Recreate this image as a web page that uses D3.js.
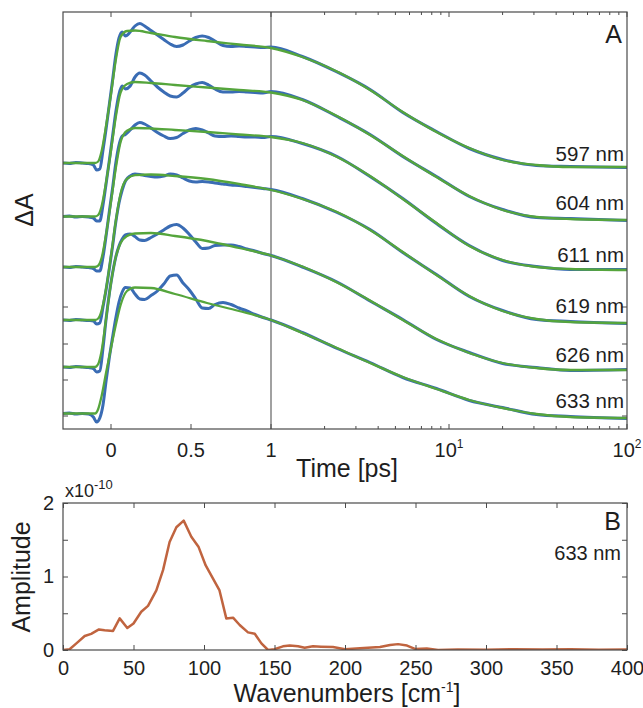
<!DOCTYPE html>
<html><head><meta charset="utf-8">
<script src="https://cdn.jsdelivr.net/npm/d3@7/dist/d3.min.js"></script>
<style>
body{margin:0;background:#fff;}
svg{display:block;font-family:"Liberation Sans",Arial,Helvetica,sans-serif;}
</style>
</head><body>
<svg id="c" width="643" height="708"></svg>
<script>
// ---------------- DATA ----------------
const traceLabels = ["597 nm","604 nm","611 nm","619 nm","626 nm","633 nm"];

// fit (green) time grid, ps
const tFit = [-0.3,-0.1,-0.08,-0.06,-0.03,0,0.03,0.06,0.1,0.15,0.25,0.4,0.6,0.8,1,
              1.5,2.35,3.6,5.5,8.5,13,20,31,48,100];
const fit597 = [2.66,2.66,2.675,2.77,3.04,3.35,3.69,3.92,3.98,3.985,3.96,3.92,3.88,3.845,3.81,
                3.72,3.575,3.39,3.17,2.97,2.81,2.69,2.64,2.62,2.62];
const fit604 = [2.125,2.125,2.14,2.22,2.475,2.785,3.12,3.365,3.45,3.47,3.46,3.44,3.415,3.39,3.365,
                3.29,3.13,2.94,2.73,2.52,2.33,2.19,2.12,2.10,2.09];
const fit611 = [1.62,1.62,1.634,1.703,1.954,2.273,2.607,2.871,2.982,3.01,3.005,2.99,2.97,2.945,2.92,
                2.86,2.72,2.53,2.30,2.06,1.83,1.69,1.62,1.60,1.59];
const fit619 = [1.09,1.09,1.105,1.177,1.41,1.73,2.08,2.356,2.501,2.538,2.545,2.53,2.50,2.45,2.39,
                2.30,2.17,1.99,1.77,1.54,1.33,1.18,1.10,1.07,1.06];
const fit626 = [0.62,0.62,0.65,0.77,1.11,1.46,1.72,1.86,1.93,1.955,1.96,1.93,1.88,1.81,1.735,
                1.625,1.465,1.285,1.09,0.90,0.76,0.66,0.61,0.59,0.59];
const fit633 = [0.155,0.155,0.20,0.32,0.57,0.81,1.04,1.24,1.38,1.415,1.41,1.35,1.26,1.18,1.09,
                0.96,0.81,0.66,0.52,0.40,0.29,0.21,0.15,0.12,0.11];

// measured data (blue) time grid, ps
const tData = [-0.3,-0.26,-0.22,-0.18,-0.14,-0.11,-0.09,-0.07,-0.05,-0.03,-0.01,0.01,0.03,0.05,0.07,0.09,
               0.12,0.15,0.18,0.21,0.25,0.29,0.33,0.37,0.41,0.45,0.49,0.53,0.57,0.61,0.65,0.7,0.75,0.8,
               0.85,0.9,0.95,1,1.5,2.35,3.6,5.5,8.5,13,20,31,48,100];
const data597 = [2.66,2.655,2.665,2.66,2.655,2.64,2.59,2.60,2.79,3.01,3.25,3.49,3.74,3.91,3.97,3.93,
                 3.97,4.03,4.055,4.03,3.985,3.94,3.895,3.85,3.825,3.84,3.88,3.915,3.93,3.915,3.88,3.835,3.825,3.83,
                 3.825,3.82,3.815,3.82,3.725,3.57,3.395,3.165,2.975,2.805,2.695,2.635,2.625,2.615];
const data604 = [2.125,2.13,2.12,2.125,2.12,2.11,2.08,2.08,2.24,2.46,2.69,2.93,3.17,3.35,3.43,3.40,
                 3.43,3.52,3.56,3.54,3.48,3.42,3.37,3.33,3.32,3.36,3.415,3.45,3.465,3.44,3.40,3.37,3.37,3.375,
                 3.37,3.365,3.36,3.375,3.295,3.125,2.945,2.725,2.525,2.325,2.195,2.115,2.105,2.085];
const data611 = [1.62,1.615,1.625,1.62,1.615,1.605,1.58,1.58,1.72,1.94,2.18,2.41,2.66,2.84,2.93,2.945,
                 2.99,3.04,3.065,3.05,3.01,2.965,2.93,2.905,2.915,2.955,2.99,3.005,2.99,2.96,2.93,2.925,2.93,2.925,
                 2.92,2.92,2.915,2.925,2.855,2.725,2.525,2.305,2.055,1.835,1.685,1.625,1.595,1.595];
const data619 = [1.09,1.085,1.095,1.09,1.085,1.08,1.05,1.06,1.22,1.40,1.61,1.83,2.07,2.26,2.39,2.48,
                 2.53,2.55,2.545,2.535,2.525,2.52,2.53,2.55,2.54,2.51,2.48,2.47,2.475,2.47,2.46,2.45,2.44,2.435,
                 2.425,2.415,2.405,2.395,2.305,2.165,1.995,1.765,1.545,1.325,1.185,1.095,1.075,1.055];
const data626 = [0.62,0.615,0.625,0.62,0.615,0.605,0.57,0.58,0.81,1.11,1.36,1.56,1.72,1.83,1.90,1.94,
                 1.95,1.925,1.89,1.885,1.915,1.95,1.99,2.03,2.045,2.01,1.945,1.87,1.805,1.81,1.835,1.84,1.84,1.825,
                 1.80,1.78,1.755,1.735,1.62,1.47,1.28,1.095,0.895,0.765,0.655,0.615,0.585,0.595];
const data633 = [0.155,0.16,0.15,0.155,0.15,0.12,0.07,0.11,0.24,0.49,0.72,0.92,1.11,1.27,1.37,1.415,
                 1.41,1.35,1.30,1.295,1.335,1.38,1.45,1.53,1.54,1.46,1.39,1.30,1.21,1.205,1.245,1.265,1.245,1.21,
                 1.18,1.145,1.115,1.09,0.965,0.805,0.665,0.515,0.405,0.285,0.215,0.145,0.125,0.105];

const fits = [fit597,fit604,fit611,fit619,fit626,fit633];
const datas = [data597,data604,data611,data619,data626,data633];
// right-end label anchor values (ΔA, arb.)
const labelVals = [2.685,2.19,1.67,1.16,0.675,0.21];

const xLinTicks = [0,0.5,1];
const xLogMajor = [10,100];
const xLogMinor = [2,3,4,5,6,7,8,9,20,30,40,50,60,70,80,90];
const yTicksA = [0.13,0.49,0.85,1.22];

// panel B: Fourier amplitude spectrum (633 nm), x1e-10
const wavenumbers = [0,4.7,9.5,15.4,20,25.5,29.5,35.5,40.2,45.6,50,55.5,60.3,66.2,71,75.6,80.4,85.6,91,96.2,
  101.2,106.4,111,115.8,120.6,125.3,131.2,136,140.7,145.4,150,156,160.8,166.7,171.4,177.3,183,191.5,200,
  210.6,224.8,232,237.6,244,249.6,258,266,280,300,320,340,360,380,400];
const amplitude = [0,0.01,0.09,0.19,0.22,0.28,0.27,0.26,0.43,0.30,0.36,0.52,0.60,0.81,1.09,1.47,1.67,1.76,1.54,1.40,
  1.15,0.97,0.81,0.43,0.44,0.34,0.24,0.22,0.09,0.0,0.01,0.05,0.06,0.05,0.03,0.05,0.045,0.04,0.01,
  0.025,0.04,0.068,0.08,0.06,0.015,0.02,0.0,0.008,0.005,0.01,0.006,0.01,0.005,0.008];
const xTicksB = [0,50,100,150,200,250,300,350,400];
const yTicksB = [0,0.5,1,1.5,2];

// ---------------- DRAW ----------------
const svg = d3.select("#c");
const blue = "#3a6cb4", green = "#55a53c", frameCol = "#4a4a4a", textCol = "#1e1e1e";

// Panel A geometry
const A = {l:63, r:627, t:12, b:429, split:271};
const xLin = d3.scaleLinear().domain([-0.3,1]).range([A.l, A.split]);
const xLog = d3.scaleLog().domain([1,100]).range([A.split, A.r]);
const xA = t => (t <= 1 ? xLin(t) : xLog(t));
const yA = d3.scaleLinear().domain([0,4.17]).range([A.b, A.t]);

const defs = svg.append("defs");
defs.append("clipPath").attr("id","clipA").append("rect")
  .attr("x",A.l).attr("y",A.t).attr("width",A.r-A.l).attr("height",A.b-A.t);

const gA = svg.append("g");
// vertical separator at t = 1
gA.append("line").attr("x1",xLin(1)).attr("x2",xLin(1)).attr("y1",A.t).attr("y2",A.b)
  .attr("stroke","#8a8a8a").attr("stroke-width",1.6);

const plotA = gA.append("g").attr("clip-path","url(#clipA)");
const lineData = d3.line().x((d,i)=>xA(tData[i])).y(d=>yA(d)).curve(d3.curveMonotoneX);
const lineFit = d3.line().x((d,i)=>xA(tFit[i])).y(d=>yA(d)).curve(d3.curveMonotoneX);
datas.forEach(d=>{
  plotA.append("path").attr("d",lineData(d)).attr("fill","none")
    .attr("stroke",blue).attr("stroke-width",3).attr("stroke-linejoin","round");
});
fits.forEach(d=>{
  plotA.append("path").attr("d",lineFit(d)).attr("fill","none")
    .attr("stroke",green).attr("stroke-width",2.3).attr("stroke-linejoin","round");
});

// frame
gA.append("rect").attr("x",A.l).attr("y",A.t).attr("width",A.r-A.l).attr("height",A.b-A.t)
  .attr("fill","none").attr("stroke",frameCol).attr("stroke-width",1.2);

// ticks panel A
const tickG = gA.append("g").attr("stroke",frameCol).attr("stroke-width",1);
function vTick(x, len){
  tickG.append("line").attr("x1",x).attr("x2",x).attr("y1",A.b).attr("y2",A.b-len);
  tickG.append("line").attr("x1",x).attr("x2",x).attr("y1",A.t).attr("y2",A.t+len);
}
xLinTicks.forEach(v=>vTick(xLin(v),5));
xLogMajor.forEach(v=>vTick(xLog(v),5));
xLogMinor.forEach(v=>vTick(xLog(v),3));
yTicksA.forEach(v=>{
  tickG.append("line").attr("x1",A.l).attr("x2",A.l+5).attr("y1",yA(v)).attr("y2",yA(v));
  tickG.append("line").attr("x1",A.r).attr("x2",A.r-5).attr("y1",yA(v)).attr("y2",yA(v));
});

// tick labels panel A
const fsTick = 20;
xLinTicks.forEach(v=>{
  gA.append("text").attr("x",xLin(v)).attr("y",457).attr("text-anchor","middle")
    .attr("font-size",fsTick).attr("fill",textCol).text(d3.format("")(v));
});
xLogMajor.forEach(v=>{
  const t = gA.append("text").attr("x",xLog(v)).attr("y",457).attr("text-anchor","middle")
    .attr("font-size",fsTick).attr("fill",textCol);
  t.append("tspan").text("10");
  t.append("tspan").attr("dy",-9).attr("font-size",12).text(String(Math.round(Math.log10(v))));
});

// trace labels
traceLabels.forEach((s,i)=>{
  gA.append("text").attr("x",624).attr("y",yA(labelVals[i])).attr("text-anchor","end")
    .attr("font-size",20.5).attr("fill",textCol).text(s);
});
gA.append("text").attr("x",622).attr("y",43).attr("text-anchor","end")
  .attr("font-size",25).attr("fill",textCol).text("A");

// axis titles A
gA.append("text").attr("x",347).attr("y",477).attr("text-anchor","middle")
  .attr("font-size",25).attr("fill",textCol).text("Time [ps]");
gA.append("text").attr("transform","translate(33,210) rotate(-90)").attr("text-anchor","middle")
  .attr("font-size",25).attr("fill",textCol).text("ΔA");

// ---------------- Panel B ----------------
const B = {l:63, r:627, t:503, b:650};
const xB = d3.scaleLinear().domain([0,400]).range([B.l,B.r]);
const yB = d3.scaleLinear().domain([0,2]).range([B.b,B.t]);
const gB = svg.append("g");
defs.append("clipPath").attr("id","clipB").append("rect")
  .attr("x",B.l).attr("y",B.t-2).attr("width",B.r-B.l).attr("height",B.b-B.t+2);

gB.append("path").attr("clip-path","url(#clipB)")
  .attr("d", d3.line().x((d,i)=>xB(wavenumbers[i])).y(d=>yB(d)).curve(d3.curveLinear)(amplitude))
  .attr("fill","none").attr("stroke","#c0643f").attr("stroke-width",2.5).attr("stroke-linejoin","round");

gB.append("rect").attr("x",B.l).attr("y",B.t).attr("width",B.r-B.l).attr("height",B.b-B.t)
  .attr("fill","none").attr("stroke",frameCol).attr("stroke-width",1.2);

const axB = gB.append("g").attr("transform",`translate(0,${B.b})`)
  .call(d3.axisBottom(xB).tickValues(xTicksB).tickSize(-5).tickPadding(11).tickFormat(d3.format("")));
const axBt = gB.append("g").attr("transform",`translate(0,${B.t})`)
  .call(d3.axisTop(xB).tickValues(xTicksB).tickSize(-5).tickFormat(""));
const axBl = gB.append("g").attr("transform",`translate(${B.l},0)`)
  .call(d3.axisLeft(yB).tickValues(yTicksB).tickSize(-5).tickPadding(9)
    .tickFormat(d => (d % 1 === 0 ? d3.format("")(d) : "")));
const axBr = gB.append("g").attr("transform",`translate(${B.r},0)`)
  .call(d3.axisRight(yB).tickValues(yTicksB).tickSize(-5).tickFormat(""));
[axB,axBt,axBl,axBr].forEach(g=>{
  g.select(".domain").remove();
  g.selectAll(".tick line").attr("stroke",frameCol);
  g.selectAll("text").attr("font-size",fsTick).attr("fill",textCol)
    .attr("font-family",'"Liberation Sans",Arial,sans-serif');
});

const mult = gB.append("text").attr("x",65).attr("y",497).attr("font-size",18).attr("fill",textCol);
mult.append("tspan").text("x10");
mult.append("tspan").attr("dy",-8).attr("font-size",13).text("-10");

gB.append("text").attr("x",621).attr("y",530).attr("text-anchor","end")
  .attr("font-size",25).attr("fill",textCol).text("B");
gB.append("text").attr("x",621).attr("y",560).attr("text-anchor","end")
  .attr("font-size",20).attr("fill",textCol).text("633 nm");

const wt = gB.append("text").attr("x",347).attr("y",702).attr("text-anchor","middle")
  .attr("font-size",25).attr("fill",textCol);
wt.append("tspan").text("Wavenumbers [cm");
wt.append("tspan").attr("dy",-10).attr("font-size",14).text("-1");
wt.append("tspan").attr("dy",10).text("]");
gB.append("text").attr("transform","translate(30,577) rotate(-90)").attr("text-anchor","middle")
  .attr("font-size",25).attr("fill",textCol).text("Amplitude");
</script>
</body></html>
